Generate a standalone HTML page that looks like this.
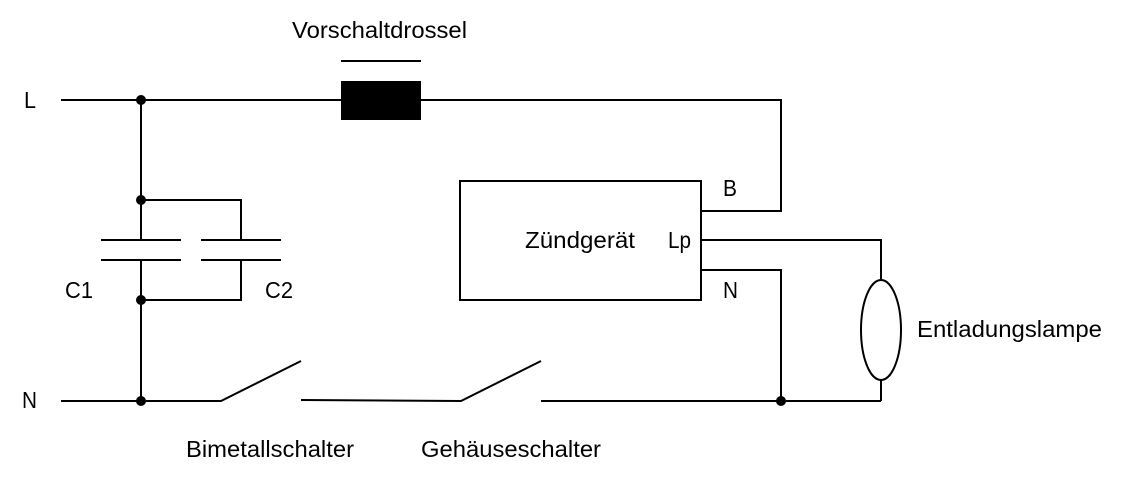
<!DOCTYPE html>
<html><head><style>body{margin:0;background:#fff}svg{display:block}text{font-family:"Liberation Sans",Arial,sans-serif;font-size:23px;fill:#000}</style></head>
<body>
<svg width="1140" height="502" viewBox="0 0 1140 502" xmlns="http://www.w3.org/2000/svg">
<g stroke="#000" stroke-width="2" fill="none">
<polyline points="61,100 341,100"/>
<polyline points="421,100 781,100 781,211 701,211"/>
<line x1="341" y1="61" x2="421" y2="61"/>
<line x1="141" y1="100" x2="141" y2="240"/>
<line x1="141" y1="260" x2="141" y2="401"/>
<polyline points="141,200 241,200 241,240"/>
<polyline points="241,260 241,300 141,300"/>
<line x1="101" y1="240" x2="181" y2="240"/>
<line x1="101" y1="260" x2="181" y2="260"/>
<line x1="201" y1="240" x2="281" y2="240"/>
<line x1="201" y1="260" x2="281" y2="260"/>
<polyline points="61,401 221,401 301,361"/>
<polyline points="301,400 461,401 541,361"/>
<line x1="541" y1="401" x2="881" y2="401"/>
<polyline points="701,270 781,270 781,401"/>
<polyline points="701,240 881,240 881,280"/>
<line x1="881" y1="380" x2="881" y2="401"/>
<ellipse cx="881" cy="330" rx="20" ry="50"/>
<rect x="460" y="181" width="241" height="119"/>
</g>
<rect x="341" y="81" width="80" height="39" fill="#000"/>
<g fill="#000">
<circle cx="141" cy="100" r="5"/><circle cx="141" cy="200" r="5"/><circle cx="141" cy="300" r="5"/><circle cx="141" cy="401" r="5"/><circle cx="781" cy="401" r="5"/>
</g>
<text x="292" y="38" textLength="175" lengthAdjust="spacingAndGlyphs">Vorschaltdrossel</text>
<text x="24" y="108" textLength="12" lengthAdjust="spacingAndGlyphs">L</text>
<text x="22" y="408" textLength="15" lengthAdjust="spacingAndGlyphs">N</text>
<text x="65" y="298" textLength="28" lengthAdjust="spacingAndGlyphs">C1</text>
<text x="265" y="298" textLength="28" lengthAdjust="spacingAndGlyphs">C2</text>
<text x="525" y="248" textLength="110" lengthAdjust="spacingAndGlyphs">Zündgerät</text>
<text x="668" y="248" textLength="23" lengthAdjust="spacingAndGlyphs">Lp</text>
<text x="723" y="196" textLength="14" lengthAdjust="spacingAndGlyphs">B</text>
<text x="723" y="298" textLength="15" lengthAdjust="spacingAndGlyphs">N</text>
<text x="917" y="337" textLength="185" lengthAdjust="spacingAndGlyphs">Entladungslampe</text>
<text x="186" y="457" textLength="168" lengthAdjust="spacingAndGlyphs">Bimetallschalter</text>
<text x="421" y="457" textLength="180" lengthAdjust="spacingAndGlyphs">Gehäuseschalter</text>
</svg>
</body></html>
